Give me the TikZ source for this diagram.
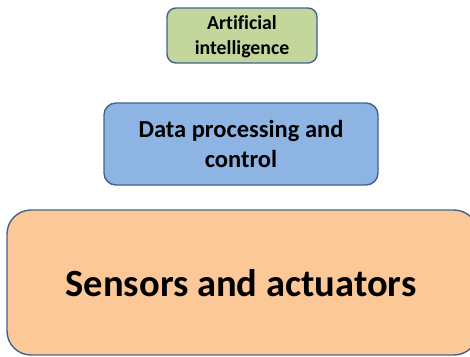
\documentclass[tikz,border=0pt]{standalone}
\usepackage{fontspec}
\setmainfont[Ligatures=NoCommon]{Carlito}
\definecolor{aifill}{HTML}{C3D69B}
\definecolor{dpfill}{HTML}{8EB4E3}
\definecolor{safill}{HTML}{FCC897}
\definecolor{edge}{HTML}{3F6390}
\begin{document}
\begin{tikzpicture}[x=1pt,y=-1pt,
  layerbox/.style={draw=edge, line width=1.4pt, align=center, font=\bfseries, inner sep=0pt},
  layertext/.style={align=center, inner sep=0pt}]
\useasboundingbox (0,0) rectangle (470,356);
\clip (0,0) rectangle (470,356);
\node[layerbox, fill=aifill, rounded corners=9pt, minimum width=150pt, minimum height=55pt] (ai) at (242,35.5) {};
\node[layertext, font=\bfseries\fontsize{19.8}{25}\selectfont] (ailabel) at (242,36.8) {Artificial\\intelligence};
\node[layerbox, fill=dpfill, rounded corners=12pt, minimum width=274pt, minimum height=82pt,
  font=\bfseries\fontsize{24.5}{30}\selectfont] (dp) at (241,144) {Data processing and\\control};
\node[layerbox, fill=safill, rounded corners=24pt, minimum width=471pt, minimum height=145pt] (sa) at (242.5,282.5) {};
\node[layertext, font=\bfseries\fontsize{38.5}{46}\selectfont] (salabel) at (241,283) {Sensors and actuators};
\end{tikzpicture}
\end{document}
